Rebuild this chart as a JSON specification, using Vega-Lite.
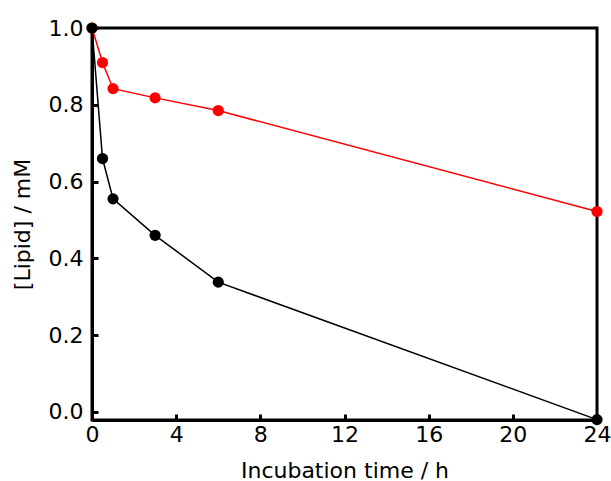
{
  "$schema": "https://vega.github.io/schema/vega-lite/v6.json",
  "autosize": "none",
  "width": 505,
  "height": 392,
  "padding": {"left": 92, "top": 28, "right": 14, "bottom": 61},
  "background": "white",
  "config": {
    "view": {"stroke": "black", "strokeWidth": 3},
    "axis": {
      "grid": false,
      "domainColor": "black",
      "domainWidth": 3,
      "tickColor": "black",
      "tickWidth": 3,
      "tickSize": -6,
      "labelFont": "DejaVu Sans",
      "labelFontSize": 22,
      "labelColor": "black",
      "titleFont": "DejaVu Sans",
      "titleFontSize": 22,
      "titleFontWeight": "normal",
      "titleColor": "black"
    }
  },
  "data": {
    "values": [
      {"series": "s1", "time": 0, "lipid": 1.0},
      {"series": "s1", "time": 0.5, "lipid": 0.91},
      {"series": "s1", "time": 1, "lipid": 0.842},
      {"series": "s1", "time": 3, "lipid": 0.818},
      {"series": "s1", "time": 6, "lipid": 0.785},
      {"series": "s1", "time": 24, "lipid": 0.522},
      {"series": "s2", "time": 0, "lipid": 1.0},
      {"series": "s2", "time": 0.5, "lipid": 0.66},
      {"series": "s2", "time": 1, "lipid": 0.555},
      {"series": "s2", "time": 3, "lipid": 0.46},
      {"series": "s2", "time": 6, "lipid": 0.338},
      {"series": "s2", "time": 24, "lipid": -0.02}
    ]
  },
  "encoding": {
    "x": {
      "field": "time", "type": "quantitative",
      "scale": {"domain": [0, 24], "nice": false, "zero": false},
      "axis": {"values": [0, 4, 8, 12, 16, 20, 24], "title": "Incubation time / h", "labelPadding": 10, "titlePadding": 15, "labelFlush": false}
    },
    "y": {
      "field": "lipid", "type": "quantitative",
      "scale": {"domain": [-0.021, 1.0], "nice": false, "zero": false},
      "axis": {"values": [0, 0.2, 0.4, 0.6, 0.8, 1.0], "format": ".1f", "title": "[Lipid] / mM", "labelPadding": 15, "titlePadding": 14, "labelFlush": false}
    },
    "color": {
      "field": "series", "type": "nominal",
      "scale": {"domain": ["s1", "s2"], "range": ["#ff0000", "#000000"]},
      "legend": null
    }
  },
  "layer": [
    {"mark": {"type": "line", "strokeWidth": 1.5, "clip": false}},
    {"mark": {"type": "point", "filled": true, "opacity": 1, "size": 125, "clip": false}}
  ]
}
